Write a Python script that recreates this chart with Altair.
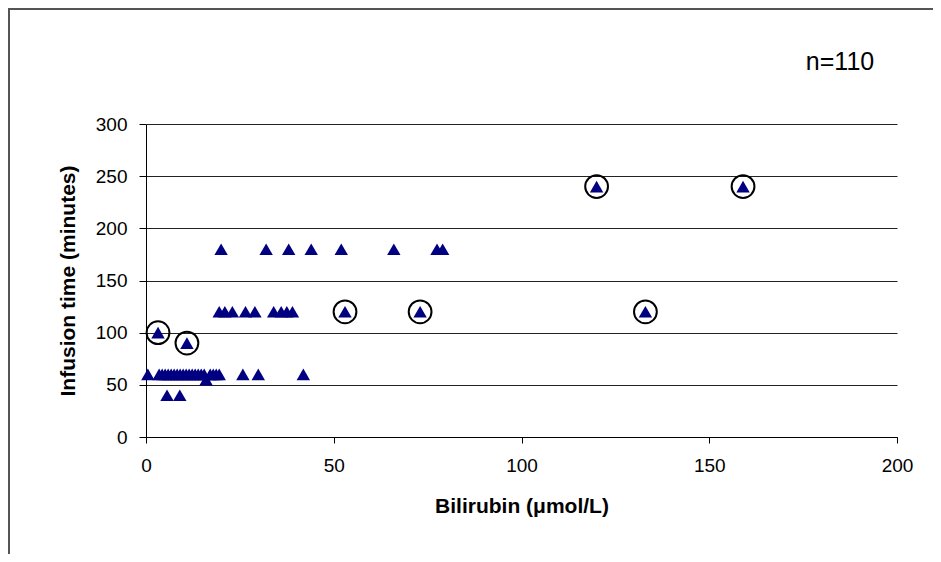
import altair as alt
import pandas as pd

# Points (bilirubin µmol/L, infusion time minutes)
bili_60 = [0.5, 3.5, 4.3, 5.1, 5.9, 6.7, 7.5, 8.3, 9.1, 9.9, 10.7, 11.5, 12.3,
           13.1, 13.9, 14.7, 15.5, 17.1, 17.9, 18.7, 19.5, 25.8, 29.9, 41.9]
bili_other = [16.0, 5.6, 9.0]
time_other = [55, 40, 40]
bili_120 = [19.5, 21.0, 23.0, 26.5, 29.0, 34.0, 36.0, 37.5, 39.0]
bili_180 = [20.0, 32.0, 38.0, 44.0, 52.0, 66.0, 77.5, 79.0]
circ_bili = [3.2, 10.9, 53.0, 73.0, 120.0, 133.0, 159.0]
circ_time = [100, 90, 120, 120, 240, 120, 240]

xs = bili_60 + bili_other + bili_120 + bili_180 + circ_bili
ys = ([60] * len(bili_60) + time_other + [120] * len(bili_120)
      + [180] * len(bili_180) + circ_time)
pts = pd.DataFrame({"x": xs, "y": ys})
circ = pd.DataFrame({"x": circ_bili, "y": circ_time})

FONT = "Liberation Sans"
xscale = alt.Scale(domain=[0, 200], nice=False, zero=True)
yscale = alt.Scale(domain=[0, 300], nice=False)

xenc = alt.X("x:Q", scale=xscale,
             axis=alt.Axis(values=[0, 50, 100, 150, 200], title="Bilirubin (μmol/L)",
                           grid=False, tickSize=6, labelPadding=13, titlePadding=20,
                           labelFlush=False))
yenc = alt.Y("y:Q", scale=yscale,
             axis=alt.Axis(values=[0, 50, 100, 150, 200, 250, 300],
                           title="Infusion time (minutes)", grid=True,
                           tickSize=7, labelPadding=12, titlePadding=17,
                           labelFlush=False))

tri = alt.Chart(pts).mark_point(shape="triangle-up", filled=True, color="#000080",
                                size=180, opacity=1).encode(x=xenc, y=yenc)
rings = alt.Chart(circ).mark_point(shape="circle", filled=False, color="black",
                                   strokeWidth=2, size=520, opacity=1).encode(x="x:Q", y="y:Q")

label = alt.Chart(pd.DataFrame({"t": ["n=110"]})).mark_text(
    font=FONT, fontSize=25, color="black", align="center", baseline="middle"
).encode(x=alt.value(694), y=alt.value(-62), text="t:N")

frame_left = alt.Chart(pd.DataFrame({"a": [0]})).mark_rule(color="#555555", strokeWidth=2).encode(
    x=alt.value(-137), y=alt.value(-115), y2=alt.value(430))
frame_top = alt.Chart(pd.DataFrame({"a": [0]})).mark_rule(color="#555555", strokeWidth=2).encode(
    x=alt.value(-138), x2=alt.value(787), y=alt.value(-115))

chart = alt.layer(frame_left, frame_top, tri, rings, label).properties(
    width=751, height=313,
    autosize=alt.AutoSizeParams(type="none"),
    padding={"left": 138, "top": 116, "right": 36, "bottom": 117},
    background="white",
).configure_view(stroke=None).configure_axis(
    domainColor="black", tickColor="black", gridColor="#222222", gridWidth=1,
    domainWidth=1, labelFont=FONT, titleFont=FONT, labelFontSize=19,
    titleFontSize=21, titleFontWeight="bold", labelColor="black", titleColor="black",
)

chart.save("out.html", embed_options={"renderer": "svg", "actions": False})
